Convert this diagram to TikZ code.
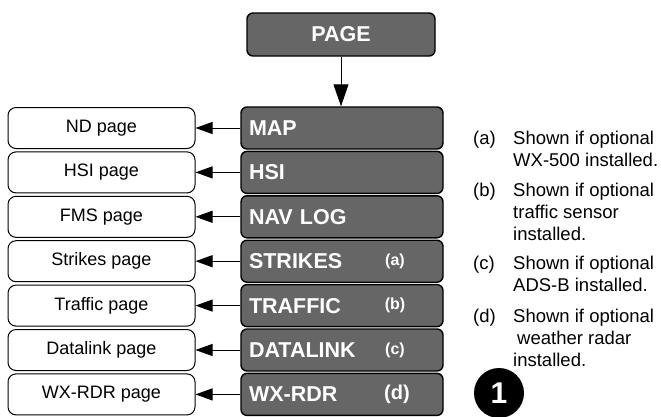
\documentclass[tikz,border=0pt]{standalone}
\usepackage{fontspec}
\setmainfont{Liberation Sans}
\usetikzlibrary{arrows.meta}

\definecolor{menugrey}{HTML}{666666}

\tikzset{
    menubox/.style={draw=black, line width=1.4pt, fill=menugrey, rounded corners=6pt,
        text width=186pt, inner xsep=8pt, minimum height=42pt, align=left,
        text=white, font=\fontsize{21.5}{24}\selectfont\bfseries},
    pagebox/.style={draw=black, line width=1pt, fill=white, rounded corners=8pt,
        minimum width=187pt, minimum height=41pt, font=\fontsize{18}{21}\selectfont},
    notetag/.style={text=white, font=\fontsize{16}{18}\selectfont\bfseries},
    legendtext/.style={anchor=north west, inner sep=0pt, align=left,
        font=\fontsize{18.5}{22}\selectfont},
    pointer/.style={line width=1pt, -{Triangle[length=17pt, width=12pt]}},
}

\begin{document}
\begin{tikzpicture}[x=1pt, y=-1pt]
    \useasboundingbox (0,0) rectangle (661,416);

    % Top menu key
    \node[menubox, text width=172pt, align=center, minimum height=43pt] (page) at (341,34.5) {PAGE};

    % Menu entries and the pages they open
    \foreach \i/\menu/\target in {1/MAP/ND page, 2/HSI/HSI page, 3/NAV LOG/FMS page,
            4/STRIKES/Strikes page, 5/TRAFFIC/Traffic page, 6/DATALINK/Datalink page,
            7/WX-RDR/WX-RDR page} {
        \pgfmathsetmacro\y{83.6+44.4*\i}
        \node[menubox] (menu\i) at (342,\y) {\menu};
        \node[pagebox] (target\i) at (101.5,\y) {\target};
        \draw[pointer] (menu\i.west) -- (target\i.east);
    }
    \draw[pointer, -{Triangle[length=22pt, width=15pt]}] (page.south) -- (page.south |- menu1.north);

    % Option marks
    \foreach \i/\mark in {4/a, 5/b, 6/c} {
        \node[notetag] (tag-\mark) at (395,{83.6+44.4*\i}) {(\mark)};
    }
    \node[notetag, font=\fontsize{20}{22}\selectfont\bfseries] (tag-d) at (397,394.4) {(d)};

    % Legend
    \foreach \mark/\y/\lines in {a/131/{Shown if optional\\WX-500 installed.},
            b/183/{Shown if optional\\traffic sensor\\installed.},
            c/256/{Shown if optional\\ADS-B installed.},
            d/309/{Shown if optional\\\hspace{4pt}weather radar\\installed.}} {
        \node[legendtext] (key-\mark) at (473,\y) {(\mark)};
        \node[legendtext] (legend-\mark) at (513,\y) {\lines};
    }

    % Badge
    \node[circle, fill=black, minimum size=50pt, inner sep=0pt, text=white,
        font=\fontsize{30}{30}\selectfont\bfseries] (badge) at (499,393) {1};
\end{tikzpicture}
\end{document}
